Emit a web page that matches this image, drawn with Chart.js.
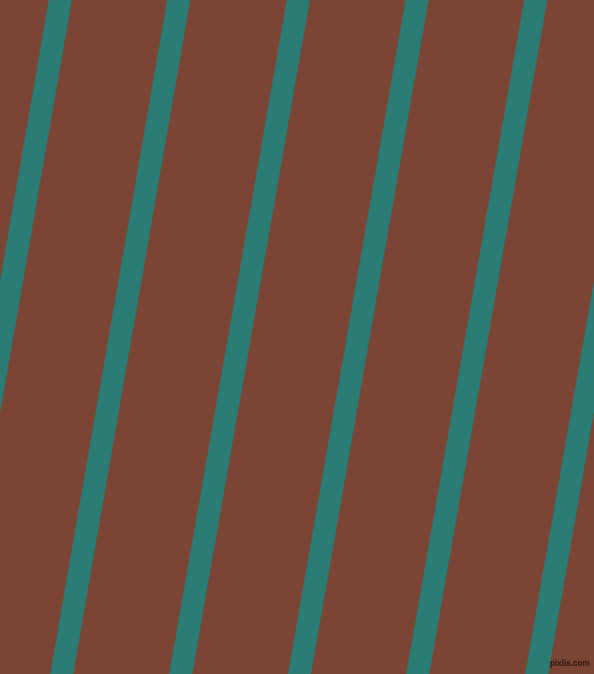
<!DOCTYPE html>
<html>
<head>
<meta charset="utf-8">
<title>Stripes</title>
<script src="https://cdn.jsdelivr.net/npm/chart.js@4/dist/chart.umd.min.js"></script>
<style>
    html, body { margin: 0; padding: 0; background: #7a4534; }
    #wrap { position: relative; width: 594px; height: 674px; overflow: hidden; }
    #credit {
        position: absolute; left: 550px; top: 657px;
        font: bold 9px "Liberation Sans", sans-serif; line-height: 12px;
        color: #2b130c; letter-spacing: 0;
        transform: scaleX(0.9); transform-origin: left top;
    }
</style>
</head>
<body>
<div id="wrap">
    <canvas id="stripes"></canvas>
    <div id="credit">pixlis.com</div>
</div>
<script>
    // Stripe centre x at the top edge and at the bottom edge of the picture
    var stripeTop = [60.3, 178.7, 298.3, 417, 535.7, 654.5];
    var stripeBottom = [-56.7, 61.7, 180.7, 299.5, 417.7, 536.7];
    // y of the two edges
    var edgeY = [0, 674];

    var stripeColor = "#2a7c74";

    var datasets = stripeTop.map(function (top, i) {
        return {
            data: [
                { x: top, y: edgeY[0] },
                { x: stripeBottom[i], y: edgeY[1] }
            ],
            showLine: true,
            borderColor: stripeColor,
            borderWidth: 22.7,
            borderCapStyle: "square",
            pointRadius: 0,
            pointHoverRadius: 0,
            clip: false
        };
    });

    new Chart(document.getElementById("stripes"), {
        type: "scatter",
        data: { datasets: datasets },
        options: {
            responsive: true,
            maintainAspectRatio: false,
            animation: false,
            layout: { padding: 0 },
            plugins: {
                legend: { display: false },
                tooltip: { enabled: false }
            },
            scales: {
                x: { type: "linear", min: 0, max: 594, display: false },
                y: { type: "linear", min: 0, max: 674, reverse: true, display: false }
            }
        }
    });
</script>
</body>
</html>
